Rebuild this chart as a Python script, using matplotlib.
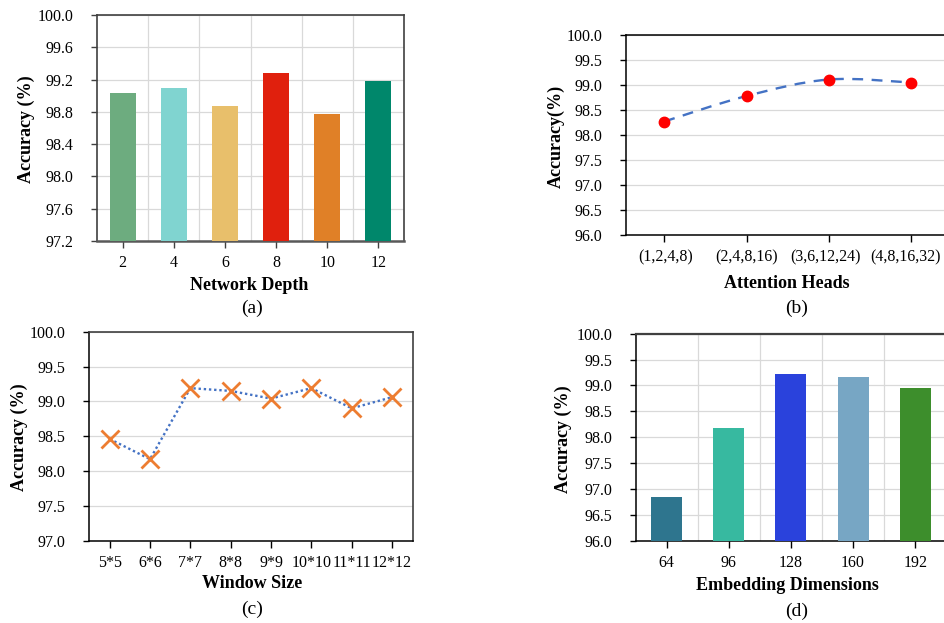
import matplotlib
matplotlib.use("Agg")
import matplotlib.pyplot as plt
from matplotlib.path import Path
from matplotlib.patches import PathPatch
import matplotlib.transforms as mtransforms
import numpy as np

plt.rcParams['font.family'] = ['Liberation Serif', 'DejaVu Serif']

# ---------------- data ----------------
depth_labels = ['2', '4', '6', '8', '10', '12']
depth_acc = [99.03, 99.09, 98.87, 99.28, 98.77, 99.18]
depth_colors = ['#6DAC7F', '#80D4D0', '#E8BF6B', '#E0200D', '#E08027', '#00876B']

heads_labels = ['(1,2,4,8)', '(2,4,8,16)', '(3,6,12,24)', '(4,8,16,32)']
heads_acc = [98.27, 98.78, 99.11, 99.05]

window_labels = ['5*5', '6*6', '7*7', '8*8', '9*9', '10*10', '11*11', '12*12']
window_acc = [98.46, 98.17, 99.19, 99.15, 99.04, 99.19, 98.90, 99.06]

embed_labels = ['64', '96', '128', '160', '192']
embed_acc = [96.84, 98.18, 99.22, 99.16, 98.95]
embed_colors = ['#2E758E', '#37B9A0', '#2A42DC', '#77A6C4', '#3D8E2C']

W, H = 944, 623
fig = plt.figure(figsize=(W / 100, H / 100), dpi=100)


def px_axes(left, top, right, bottom):
    return fig.add_axes([left / W, 1 - bottom / H, (right - left) / W, (bottom - top) / H])


def ftext(x, y, s, **kw):
    fig.text(x / W, 1 - y / H, s, ha='center', va='center', **kw)


GRID = '#D9D9D9'
TICKFS = 11.5
LABFS = 13

# ---------------- (a) ----------------
ax = px_axes(97, 15, 404, 241)
xa = np.arange(len(depth_acc))
ax.bar(xa, [v - 97.2 for v in depth_acc], bottom=97.2, width=0.51, color=depth_colors, zorder=3)
ax.set_xlim(-0.5, len(depth_acc) - 0.5)
ax.set_ylim(97.2, 100.0)
ax.set_yticks(np.arange(97.2, 100.01, 0.4))
ax.set_yticklabels([f'{v:.1f}' for v in np.arange(97.2, 100.01, 0.4)])
ax.set_xticks(xa)
ax.set_xticklabels(depth_labels)
ax.set_xticks(np.arange(0.5, len(depth_acc) - 1, 1), minor=True)
ax.grid(axis='y', color=GRID, lw=0.9, zorder=0)
ax.grid(axis='x', which='minor', color=GRID, lw=0.9, zorder=0)
ax.tick_params(axis='x', which='minor', length=0)
for s in ['left', 'top', 'right']:
    ax.spines[s].set_color('#404040')
    ax.spines[s].set_linewidth(1.2)
ax.spines['bottom'].set_color('#595959')
ax.spines['bottom'].set_linewidth(1.8)
ax.tick_params(axis='y', which='major', length=4, width=1, color='#404040', pad=13, labelsize=TICKFS)
ax.tick_params(axis='x', which='major', length=5, width=1, color='#404040', pad=5, labelsize=TICKFS)
ftext(26.3, 128.8, 'Accuracy (%)', rotation=90, fontsize=LABFS, fontweight='bold')
ftext(249, 285, 'Network Depth', fontsize=LABFS, fontweight='bold')
ftext(251.7, 308, '(a)', fontsize=14)

# ---------------- (b) ----------------
ax = px_axes(626, 35, 626 + (3.5 + 0.466) * 82.2, 235)
xb = np.arange(len(heads_acc))
# smooth bezier line through the data points (rendering only)
pts = np.column_stack([xb, heads_acc]).astype(float)
verts = [tuple(pts[0])]
codes = [Path.MOVETO]
n = len(pts)
for i in range(n - 1):
    p0 = pts[i - 1] if i > 0 else pts[i]
    p1 = pts[i]
    p2 = pts[i + 1]
    p3 = pts[i + 2] if i + 2 < n else pts[i + 1]
    c1 = p1 + (p2 - p0) / 6.0
    c2 = p2 - (p3 - p1) / 6.0
    verts += [tuple(c1), tuple(c2), tuple(p2)]
    codes += [Path.CURVE4] * 3
ax.add_patch(PathPatch(Path(verts, codes), fill=False, edgecolor='#4472C4', lw=1.7,
                       linestyle=(0, (4.6, 3.6)), zorder=3))
ax.plot(xb, heads_acc, linestyle='none', marker='o', ms=7.5, color='#FF0000', zorder=4)
ax.set_xlim(-0.466, 3.5)
ax.set_ylim(96.0, 100.0)
ax.set_yticks(np.arange(96.0, 100.01, 0.5))
ax.set_yticklabels([f'{v:.1f}' for v in np.arange(96.0, 100.01, 0.5)])
ax.set_xticks(xb)
ax.set_xticklabels(heads_labels)
ax.grid(axis='y', color=GRID, lw=0.9, zorder=0)
for s in ['left', 'top', 'bottom']:
    ax.spines[s].set_color('black')
    ax.spines[s].set_linewidth(1.1)
ax.spines['right'].set_visible(False)
ax.tick_params(axis='y', length=4, width=1, pad=13, labelsize=TICKFS)
ax.tick_params(axis='x', length=5, width=1, pad=5.5, labelsize=TICKFS)
# slight left shift of the wider labels, as in the reference
shifts = [1, 0, -3, -5]
for lab, dx in zip(ax.get_xticklabels(), shifts):
    lab.set_transform(lab.get_transform() + mtransforms.ScaledTranslation(dx / 100, 0, fig.dpi_scale_trans))
ftext(556.5, 136.3, 'Accuracy(%)', rotation=90, fontsize=LABFS, fontweight='bold')
ftext(787, 284, 'Attention Heads', fontsize=LABFS, fontweight='bold')
ftext(796.7, 308, '(b)', fontsize=14)

# ---------------- (c) ----------------
ax = px_axes(88.7, 331.7, 413, 540.7)
xc = np.arange(len(window_acc))
ax.plot(xc, window_acc, linestyle=(0, (1, 1.2)), lw=1.7, color='#4472C4', zorder=3)
ax.plot(xc, window_acc, linestyle='none', marker='x', ms=13, mew=2.0, color='#ED7D31', zorder=4)
ax.set_xlim(-0.52, len(window_acc) - 0.48)
ax.set_ylim(97.0, 100.0)
ax.set_yticks(np.arange(97.0, 100.01, 0.5))
ax.set_yticklabels([f'{v:.1f}' for v in np.arange(97.0, 100.01, 0.5)])
ax.set_xticks(xc)
ax.set_xticklabels(window_labels)
ax.grid(axis='y', color=GRID, lw=0.9, zorder=0)
for s in ['left', 'bottom']:
    ax.spines[s].set_color('black')
    ax.spines[s].set_linewidth(1.1)
for s in ['top', 'right']:
    ax.spines[s].set_color('#404040')
    ax.spines[s].set_linewidth(1.2)
ax.tick_params(axis='y', length=4, width=1, pad=13, labelsize=TICKFS)
ax.tick_params(axis='x', length=5, width=1, pad=5.5, labelsize=TICKFS)
ftext(19.2, 437.5, 'Accuracy (%)', rotation=90, fontsize=LABFS, fontweight='bold')
ftext(251.7, 584, 'Window Size', fontsize=LABFS, fontweight='bold')
ftext(251.7, 609, '(c)', fontsize=14)

# ---------------- (d) ----------------
ax = px_axes(635.7, 333.7, 635.7 + 5 * 62.1, 540.7)
xd = np.arange(len(embed_acc))
ax.bar(xd, [v - 96.0 for v in embed_acc], bottom=96.0, width=0.5, color=embed_colors, zorder=3)
ax.set_xlim(-0.5, len(embed_acc) - 0.5)
ax.set_ylim(96.0, 100.0)
ax.set_yticks(np.arange(96.0, 100.01, 0.5))
ax.set_yticklabels([f'{v:.1f}' for v in np.arange(96.0, 100.01, 0.5)])
ax.set_xticks(xd)
ax.set_xticklabels(embed_labels)
ax.set_xticks(np.arange(0.5, len(embed_acc) - 1, 1), minor=True)
ax.grid(axis='y', color=GRID, lw=0.9, zorder=0)
ax.grid(axis='x', which='minor', color=GRID, lw=0.9, zorder=0)
ax.tick_params(axis='x', which='minor', length=0)
for s in ['left', 'bottom']:
    ax.spines[s].set_color('black')
    ax.spines[s].set_linewidth(1.1)
ax.spines['top'].set_color('#404040')
ax.spines['top'].set_linewidth(1.6)
ax.spines['right'].set_visible(False)
ax.tick_params(axis='y', which='major', length=4, width=1, pad=13, labelsize=TICKFS)
ax.tick_params(axis='x', which='major', length=5, width=1, pad=5.5, labelsize=TICKFS)
ftext(563.8, 438.8, 'Accuracy (%)', rotation=90, fontsize=LABFS, fontweight='bold')
ftext(787.7, 585, 'Embedding Dimensions', fontsize=LABFS, fontweight='bold')
ftext(796.7, 611.7, '(d)', fontsize=14)

fig.savefig('out.png', dpi=100)
